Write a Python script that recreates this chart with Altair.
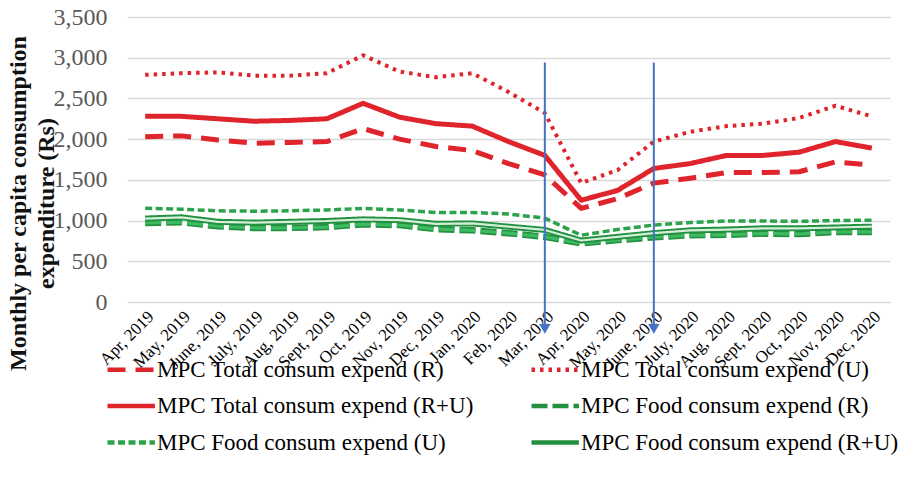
import altair as alt
import pandas as pd

months = ["Apr, 2019", "May, 2019", "June, 2019", "July, 2019", "Aug, 2019",
          "Sept, 2019", "Oct, 2019", "Nov, 2019", "Dec, 2019", "Jan, 2020",
          "Feb, 2020", "Mar, 2020", "Apr, 2020", "May, 2020", "June, 2020",
          "July, 2020", "Aug, 2020", "Sept, 2020", "Oct, 2020", "Nov, 2020",
          "Dec, 2020"]

total_r = [2030, 2040, 1990, 1950, 1960, 1970, 2130, 2000, 1910, 1860, 1700,
           1560, 1150, 1270, 1460, 1520, 1590, 1590, 1600, 1720, 1680]
total_u = [2790, 2810, 2820, 2780, 2780, 2810, 3030, 2830, 2760, 2810, 2580,
           2320, 1460, 1620, 1970, 2090, 2160, 2190, 2260, 2410, 2280]
total_ru = [2280, 2280, 2250, 2220, 2230, 2250, 2440, 2270, 2190, 2160, 1970,
            1800, 1250, 1370, 1640, 1700, 1800, 1800, 1840, 1970, 1890]
food_r = [970, 980, 930, 910, 910, 920, 955, 945, 895, 880, 845,
          800, 720, 760, 795, 820, 825, 840, 835, 860, 860]
food_u = [1150, 1140, 1120, 1115, 1120, 1130, 1150, 1130, 1100, 1100, 1080,
          1030, 820, 890, 945, 975, 995, 995, 990, 1000, 1005]
food_ru = [1025, 1040, 985, 975, 985, 995, 1015, 1005, 960, 965, 925,
           885, 755, 800, 845, 880, 890, 905, 905, 915, 925]

series_names = ["MPC Total consum expend (R)", "MPC Total consum expend (U)",
                "MPC Total consum expend (R+U)", "MPC Food consum expend (R)",
                "MPC Food consum expend (U)", "MPC Food consum expend (R+U)"]
series_values = [total_r, total_u, total_ru, food_r, food_u, food_ru]

# lockdown markers
arrow_months = ["Mar, 2020", "June, 2020"]
arrow_top = [2940, 2940]
arrow_bottom = [-300, -300]
arrow_head = [-330, -330]

rows = []
for name, vals in zip(series_names, series_values):
    for m, v in zip(months, vals):
        rows.append({"month": m, "series": name, "value": v})
df = pd.DataFrame(rows)
arrows = pd.DataFrame({"month": arrow_months, "top": arrow_top,
                       "bottom": arrow_bottom, "head": arrow_head})

RED = "#e0242b"
GREEN = "#2ba24c"
GREEN_DARK = "#22903f"
GREEN_LIGHT = "#d3efd9"
BLUE = "#4472c4"
SERIF = "Liberation Serif"

# per-series stroke styles: (stroke colour, dash, width)
styles = {
    series_names[0]: (RED, [18, 10], 5),
    series_names[1]: (RED, [3.5, 5], 4),
    series_names[2]: (RED, [1, 0], 5),
    series_names[3]: (GREEN_DARK, [16, 5], 6.5),
    series_names[4]: (GREEN, [7, 3.5], 3.5),
    series_names[5]: (GREEN_DARK, [1, 0], 6),
}

color_scale = alt.Scale(domain=series_names, range=[styles[s][0] for s in series_names])
dash_scale = alt.Scale(domain=series_names, range=[styles[s][1] for s in series_names])

# legend swatch: a horizontal stroke longer than the symbol box, ending just short of the label
legend = alt.Legend(
    title=None, orient="none", legendX=-22, legendY=337, columns=2,
    direction="horizontal",
    columnPadding=48, rowPadding=8.5, padding=0,
    symbolType="M-1,0L2.65,0", symbolSize=676, symbolStrokeWidth=4.5, labelOffset=21,
    labelFont=SERIF, labelFontSize=23, labelColor="#000000", labelLimit=400,
)

y_scale = alt.Scale(domain=[0, 3500], nice=False)
y_axis = alt.Axis(values=list(range(0, 3501, 500)),
                  labelExpr="format(datum.value, ',')",
                  title=["Monthly per capita consumption", "expenditure (Rs)"],
                  titleFont=SERIF, titleFontSize=24, titleFontWeight="bold",
                  titleColor="#111111", titleLineHeight=28,
                  titleBaseline="top", titleAlign="center",
                  titleAngle=270, titleX=-121, titleY=186,
                  labelFont=SERIF, labelFontSize=24, labelColor="#595959",
                  labelPadding=20, ticks=False, domain=False,
                  gridColor="#d9d9d9", gridWidth=1.5)
x_enc = alt.X("month:N", sort=months, scale=alt.Scale(type="point", padding=0.5),
              axis=alt.Axis(title=None, labelAngle=-45, labelFont=SERIF,
                            labelFontSize=17, labelColor="#000000",
                            ticks=False, domain=False, grid=False,
                            labelPadding=6))
y_enc = alt.Y("value:Q", scale=y_scale, axis=y_axis)

base = alt.Chart(df)
layers = []
draw_order = [series_names[3], series_names[5], series_names[4],
              series_names[0], series_names[2], series_names[1]]
for name in draw_order:
    color, dash, w = styles[name]
    layers.append(
        base.transform_filter(alt.datum.series == name)
        .mark_line(strokeWidth=w, strokeJoin="round")
        .encode(x=x_enc, y=y_enc,
                color=alt.Color("series:N", scale=color_scale, legend=legend),
                strokeDash=alt.StrokeDash("series:N", scale=dash_scale, legend=legend))
    )
    # inner stroke for the outlined green lines
    if name == series_names[3]:
        layers.append(
            base.transform_filter(alt.datum.series == name)
            .mark_line(strokeWidth=3.2, strokeDash=dash, color="#3dba62", strokeJoin="round")
            .encode(x=x_enc, y=y_enc)
        )
    if name == series_names[5]:
        layers.append(
            base.transform_filter(alt.datum.series == name)
            .mark_line(strokeWidth=2.2, color=GREEN_LIGHT, strokeJoin="round")
            .encode(x=x_enc, y=y_enc)
        )

arrow_base = alt.Chart(arrows)
rules = arrow_base.mark_rule(color=BLUE, strokeWidth=2).encode(
    x=x_enc, y=alt.Y("top:Q", scale=y_scale, axis=y_axis), y2="bottom:Q")
heads = arrow_base.mark_point(shape="triangle-down", filled=True, size=130,
                              color=BLUE, opacity=1).encode(
    x=x_enc, y=alt.Y("head:Q", scale=y_scale, axis=y_axis))

chart = alt.layer(*layers, rules, heads).properties(
    width=763, height=285,
    autosize=alt.AutoSizeParams(type="none"),
    padding={"left": 127, "top": 17, "right": 8, "bottom": 181},
    background="#ffffff",
).configure_view(stroke=None)

chart.save("out.html", embed_options={"renderer": "svg", "actions": False})
